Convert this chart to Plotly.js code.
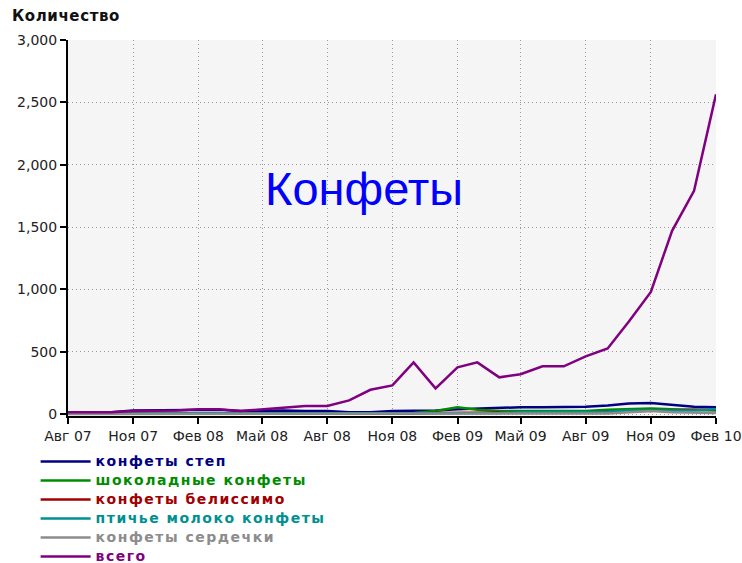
<!DOCTYPE html>
<html>
<head>
<meta charset="utf-8">
<script src="https://cdn.plot.ly/plotly-3.0.1.min.js"></script>
<style>html,body{margin:0;padding:0;background:#fff;}#chart{width:742px;height:563px;}</style>
</head>
<body>
<div id="chart"></div>
<script>
const months = ["2007-08-01","2007-09-01","2007-10-01","2007-11-01","2007-12-01","2008-01-01","2008-02-01","2008-03-01","2008-04-01","2008-05-01","2008-06-01","2008-07-01","2008-08-01","2008-09-01","2008-10-01","2008-11-01","2008-12-01","2009-01-01","2009-02-01","2009-03-01","2009-04-01","2009-05-01","2009-06-01","2009-07-01","2009-08-01","2009-09-01","2009-10-01","2009-11-01","2009-12-01","2010-01-01","2010-02-01"];
const seriesNames = ["конфеты степ","шоколадные конфеты","конфеты белиссимо","птичье молоко конфеты","конфеты сердечки","всего"];
const step     = [15,15,15,30,30,30,35,35,25,30,30,25,25,15,15,25,25,30,40,45,50,55,55,55,60,70,85,90,75,60,55];
const choco    = [5,5,5,10,10,10,10,10,10,10,10,10,10,10,10,10,10,25,55,35,25,25,25,20,25,35,40,45,40,35,30];
const belissimo= [3,3,3,3,3,3,3,3,3,3,3,3,3,3,3,3,3,10,10,10,10,15,15,15,15,20,25,30,30,35,35];
const ptichye  = [5,5,5,5,5,5,5,5,5,5,5,5,5,5,5,10,10,10,10,10,10,15,15,15,15,20,30,30,25,30,40];
const serdechki= [2,2,2,2,2,2,2,2,2,2,2,2,2,2,2,2,2,2,2,2,2,5,5,5,5,5,15,25,15,10,10];
const total    = [15,15,15,25,28,30,40,40,25,40,50,65,65,110,195,230,415,207,375,415,295,320,383,383,463,527,742,980,1470,1790,2565];
const tickVals = ["2007-08-01","2007-11-01","2008-02-01","2008-05-01","2008-08-01","2008-11-01","2009-02-01","2009-05-01","2009-08-01","2009-11-01","2010-02-01"];
const tickText = ["Авг 07","Ноя 07","Фев 08","Май 08","Авг 08","Ноя 08","Фев 09","Май 09","Авг 09","Ноя 09","Фев 10"];
const yTicks = [0,500,1000,1500,2000,2500,3000];

const colors = ["#000080","#008c00","#a00000","#009090","#8c8c8c","#800080"];
const allData = [step, choco, belissimo, ptichye, serdechki, total];

const traces = allData.map((vals, i) => ({
  x: months,
  y: vals,
  type: "scatter",
  mode: "lines",
  name: '<b><span style="font-size:14px;letter-spacing:1.5px;color:' + colors[i] + '">' + seriesNames[i] + '</span></b>',
  line: {color: colors[i], width: 2.5}
}));

const tickFont = {size: 14, family: "DejaVu Sans, sans-serif", color: "#222"};

const layout = {
  width: 742, height: 563,
  margin: {l: 68, r: 26, t: 40, b: 147, autoexpand: false},
  paper_bgcolor: "#ffffff",
  plot_bgcolor: "#f5f5f5",
  showlegend: true,
  font: {family: "DejaVu Sans, sans-serif", color: "#222"},
  separators: ".,",
  xaxis: {
    type: "date",
    range: ["2007-08-01","2010-02-01"],
    tickvals: tickVals, ticktext: tickText, tickangle: 0,
    tickfont: tickFont,
    showline: true, linecolor: "#000", linewidth: 2,
    ticks: "outside", ticklen: 6, tickwidth: 2, tickcolor: "#000",
    showgrid: true, gridcolor: "#999", griddash: "1px,3px", gridwidth: 1,
    zeroline: false, fixedrange: true
  },
  yaxis: {
    range: [-15, 3000],
    tickvals: yTicks, tickformat: ",d",
    tickfont: tickFont,
    showline: true, linecolor: "#000", linewidth: 2,
    ticks: "outside", ticklen: 6, tickwidth: 2, tickcolor: "#000",
    showgrid: true, gridcolor: "#999", griddash: "1px,3px", gridwidth: 1,
    zeroline: false, fixedrange: true
  },
  legend: {
    xref: "container", yref: "container",
    x: 0.048, y: 0.206, xanchor: "left", yanchor: "top",
    bgcolor: "rgba(0,0,0,0)",
    font: {size: 11, family: "DejaVu Sans, sans-serif"},
    tracegroupgap: 0, itemwidth: 50,
    traceorder: "normal"
  },
  annotations: [
    {text: "Конфеты", xref: "paper", yref: "paper", x: 0.4568, y: 0.606,
     xanchor: "center", yanchor: "middle",
     showarrow: false, font: {size: 47, color: "#0000ff", family: "Liberation Sans, Arial, sans-serif"}},
    {text: '<b><span style="letter-spacing:0.6px">Количество</span></b>', xref: "paper", yref: "paper", x: -0.0895, y: 1.0638,
     xanchor: "left", yanchor: "middle", showarrow: false,
     font: {size: 15, color: "#111", family: "DejaVu Sans, sans-serif"}}
  ]
};

Plotly.newPlot("chart", traces, layout, {displayModeBar: false, staticPlot: true});
</script>
</body>
</html>
